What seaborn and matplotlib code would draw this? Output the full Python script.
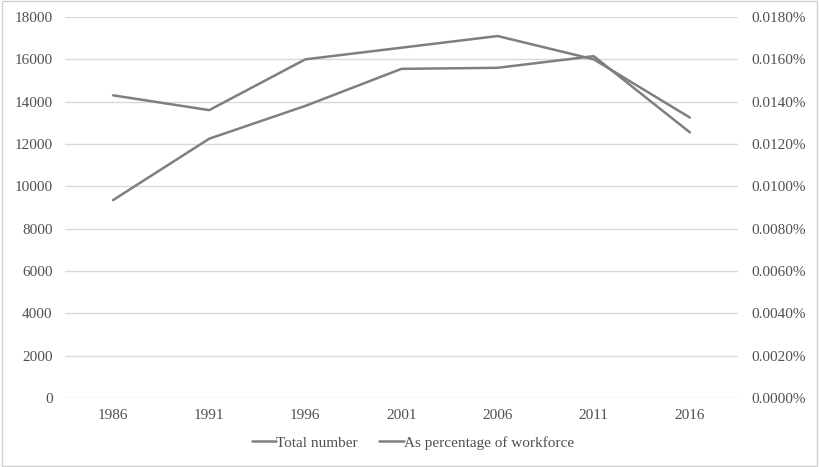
import matplotlib
matplotlib.use("Agg")
import matplotlib.pyplot as plt
import matplotlib.ticker as mticker
from matplotlib.patches import Rectangle
import seaborn as sns
import pandas as pd

years = ["1986", "1991", "1996", "2001", "2006", "2011", "2016"]
total_number = [9350, 12250, 13800, 15550, 15600, 16150, 12550]
pct_workforce = [0.01430, 0.01360, 0.01600, 0.01655, 0.01710, 0.01600, 0.01325]
left_ticks = [0, 2000, 4000, 6000, 8000, 10000, 12000, 14000, 16000, 18000]
right_ticks = [0.0, 0.002, 0.004, 0.006, 0.008, 0.010, 0.012, 0.014, 0.016, 0.018]

sns.set_style("white")
plt.rcParams["font.family"] = ["Liberation Serif", "DejaVu Serif"]

df = pd.DataFrame({"year": years, "total": total_number, "pct": pct_workforce})

fig = plt.figure(figsize=(8.19, 4.67), dpi=100)
fig.patches.append(Rectangle((0.002, 0.003), 0.996, 0.994, transform=fig.transFigure,
                             fill=False, edgecolor="#d0d0d0", linewidth=1.0))
ax = fig.add_axes([0.0794, 0.1478, 0.8216, 0.8158])
ax2 = ax.twinx()

line_color = "#7f7f7f"
sns.lineplot(data=df, x="year", y="total", ax=ax, color=line_color, linewidth=1.8,
             label="Total number", legend=False, sort=False)
sns.lineplot(data=df, x="year", y="pct", ax=ax2, color=line_color, linewidth=1.8,
             label="As percentage of workforce", legend=False, sort=False)

ax.set_xlim(-0.5, len(years) - 0.5)
ax.set_ylim(0, 18000)
ax2.set_ylim(0, 0.018)
ax.set_yticks(left_ticks)
ax2.set_yticks(right_ticks)
ax2.yaxis.set_major_formatter(mticker.FuncFormatter(lambda v, p: f"{v:.4f}%"))

ax.grid(axis="y", color="#d9d9d9", linewidth=1.0)
ax.grid(axis="x", visible=False)
ax2.grid(False)
ax.set_axisbelow(True)

for a in (ax, ax2):
    for s in a.spines.values():
        s.set_visible(False)
    a.set_xlabel("")
    a.set_ylabel("")

text_color = "#505050"
ax.tick_params(axis="y", length=0, pad=9, labelsize=11, labelcolor=text_color)
ax2.tick_params(axis="y", length=0, pad=10, labelsize=11, labelcolor=text_color)
ax.tick_params(axis="x", length=0, pad=8, labelsize=11, labelcolor=text_color)

h1, l1 = ax.get_legend_handles_labels()
h2, l2 = ax2.get_legend_handles_labels()
fig.legend(h1 + h2, l1 + l2, loc="center", bbox_to_anchor=(0.504, 0.052), ncol=2,
           frameon=False, fontsize=11, handlelength=1.6, handletextpad=0.0,
           columnspacing=1.4, labelcolor=text_color)

fig.savefig("out.png", dpi=100)
